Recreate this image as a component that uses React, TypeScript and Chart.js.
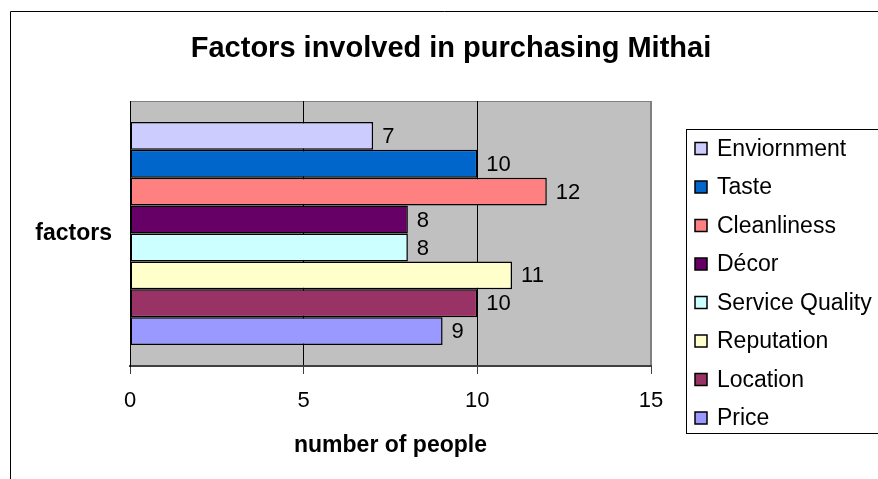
import React, { useEffect, useRef } from 'react';
import { Chart, registerables } from 'chart.js';

Chart.register(...registerables);

const categories = ['factors'];
const seriesNames = ['Enviornment', 'Taste', 'Cleanliness', 'Décor', 'Service Quality', 'Reputation', 'Location', 'Price'];
const seriesValues = [7, 10, 12, 8, 8, 11, 10, 9];
const seriesColors = ['#CCCCFF', '#0066CC', '#FF8080', '#660066', '#CCFFFF', '#FFFFCC', '#993366', '#9999FF'];
const xTicks = [0, 5, 10, 15];
const chartTitle = 'Factors involved in purchasing Mithai';
const xTitle = 'number of people';

const FONT = "'Liberation Sans', Arial, sans-serif";

const framePlugin = {
  id: 'frame',
  beforeDraw(chart: any) {
    const { ctx, chartArea: a } = chart;
    ctx.save();
    ctx.fillStyle = '#ffffff';
    ctx.fillRect(0, 0, chart.width, chart.height);
    ctx.strokeStyle = '#000000';
    ctx.lineWidth = 1;
    ctx.beginPath();
    ctx.moveTo(10.5, chart.height + 2);
    ctx.lineTo(10.5, 11.5);
    ctx.lineTo(chart.width + 2, 11.5);
    ctx.stroke();
    ctx.fillStyle = '#C0C0C0';
    ctx.fillRect(a.left, a.top, a.right - a.left, a.bottom - a.top);
    ctx.strokeStyle = '#808080';
    ctx.strokeRect(a.left + 0.5, a.top + 0.5, a.right - a.left - 1, a.bottom - a.top - 1);
    ctx.fillStyle = '#000000';
    ctx.font = `bold 29px ${FONT}`;
    ctx.textAlign = 'center';
    ctx.textBaseline = 'alphabetic';
    ctx.fillText(chartTitle, 451, 57);
    ctx.restore();
  },
  afterDatasetsDraw(chart: any) {
    const { ctx } = chart;
    ctx.save();
    ctx.fillStyle = '#000000';
    ctx.font = `22px ${FONT}`;
    ctx.textAlign = 'left';
    ctx.textBaseline = 'middle';
    chart.data.datasets.forEach((ds: any, i: number) => {
      const meta = chart.getDatasetMeta(i);
      meta.data.forEach((el: any, j: number) => {
        ctx.fillText(String(ds.data[j]), el.x + 9, el.y + 1);
      });
    });
    ctx.restore();
  },
  afterDraw(chart: any) {
    const { ctx } = chart;
    ctx.save();
    ctx.strokeStyle = '#000000';
    ctx.lineWidth = 1;
    ctx.strokeRect(686.5, 129.5, chart.width, 433 - 129);
    ctx.font = `23px ${FONT}`;
    ctx.textAlign = 'left';
    ctx.textBaseline = 'middle';
    chart.data.datasets.forEach((ds: any, i: number) => {
      const cy = 148.5 + i * 38.5;
      ctx.fillStyle = ds.backgroundColor;
      ctx.fillRect(695, cy - 6, 12, 12);
      ctx.strokeStyle = '#000000';
      ctx.lineWidth = 1.5;
      ctx.strokeRect(695, cy - 6, 12, 12);
      ctx.fillStyle = '#000000';
      ctx.fillText(ds.label, 717, cy + 1);
    });
    ctx.restore();
  },
};

export default function App() {
  const canvasRef = useRef<HTMLCanvasElement | null>(null);

  useEffect(() => {
    const canvas = canvasRef.current;
    if (!canvas) return;
    const chart = new Chart(canvas, {
      type: 'bar',
      data: {
        labels: categories,
        datasets: seriesNames.map((name, i) => ({
          label: name,
          data: [seriesValues[i]],
          backgroundColor: seriesColors[i],
          borderColor: '#000000',
          borderWidth: 1.5,
          borderSkipped: false,
          categoryPercentage: 0.842,
          barPercentage: 1,
        })),
      },
      options: {
        indexAxis: 'y',
        responsive: false,
        animation: false,
        events: [],
        layout: { padding: { left: 0, right: 227, top: 101, bottom: 20 } },
        plugins: {
          legend: { display: false },
          title: { display: false },
          tooltip: { enabled: false },
        },
        scales: {
          x: {
            type: 'linear',
            min: 0,
            max: 15,
            afterBuildTicks: (s: any) => {
              s.ticks = xTicks.map((v) => ({ value: v }));
            },
            afterFit: (s: any) => {
              s.height = 93;
            },
            ticks: {
              color: '#000000',
              font: { family: FONT, size: 22 },
              padding: 14,
              maxRotation: 0,
            },
            grid: {
              color: (c: any) => (c.tick && c.tick.value === 15 ? '#808080' : '#000000'),
              lineWidth: 1,
              tickLength: 8,
              tickColor: '#404040',
              drawTicks: true,
            },
            border: { display: true, color: '#404040', width: 2 },
            title: {
              display: true,
              text: xTitle,
              color: '#000000',
              font: { family: FONT, size: 23, weight: 'bold' },
              padding: { top: 0, bottom: 0 },
            },
          },
          y: {
            type: 'category',
            afterFit: (s: any) => {
              s.width = 130;
            },
            ticks: {
              color: '#000000',
              font: { family: FONT, size: 23, weight: 'bold' },
              padding: 18,
            },
            grid: { display: false, drawTicks: false },
            border: { display: true, color: '#000000', width: 1 },
          },
        },
      },
      plugins: [framePlugin],
    } as any);
    return () => chart.destroy();
  }, []);

  return (
    <div style={{ position: 'fixed', left: 0, top: 0, width: 878, height: 479 }}>
      <canvas ref={canvasRef} width={878} height={479} style={{ display: 'block' }} />
    </div>
  );
}
